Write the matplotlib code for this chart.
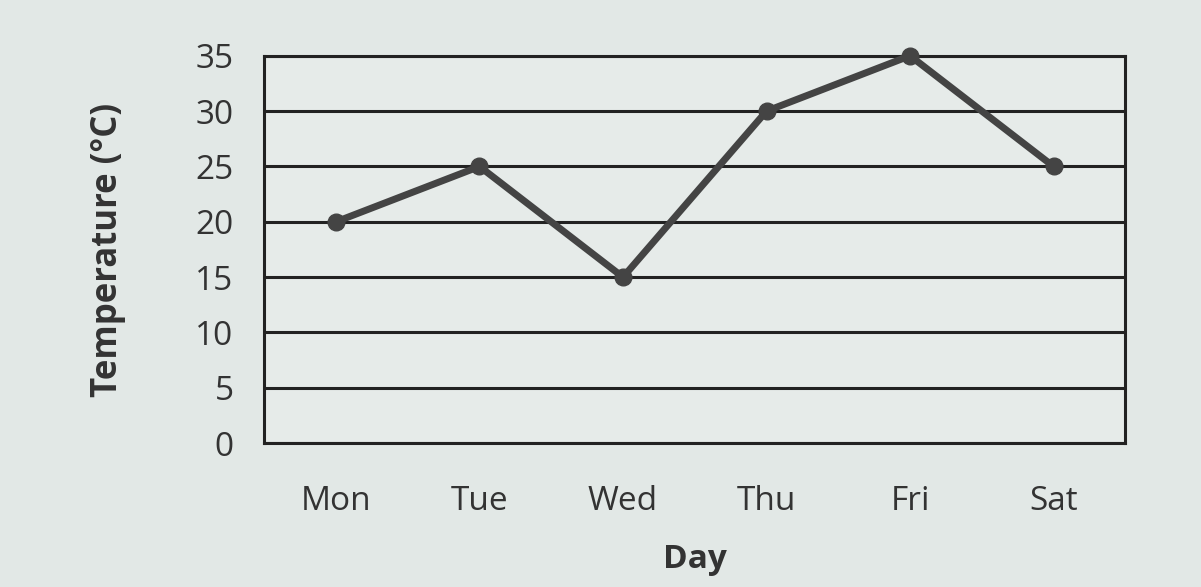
import matplotlib.pyplot as plt

days = ["Mon", "Tue", "Wed", "Thu", "Fri", "Sat"]
temps = [20, 25, 15, 30, 35, 25]
yticks = [0, 5, 10, 15, 20, 25, 30, 35]

plt.rcParams['font.family'] = ['Open Sans', 'DejaVu Sans']

fig = plt.figure(figsize=(12.01, 5.87), dpi=100)
fig.patch.set_facecolor("#e2e8e6")
ax = fig.add_axes([0.22, 0.245, 0.717, 0.66])
ax.set_facecolor("#e6ebe9")

for y in yticks:
    ax.axhline(y, color="#222222", lw=2.2, zorder=1)

ax.plot(range(len(days)), temps, color="#444444", lw=5, marker="o",
        markersize=12, zorder=3, clip_on=False)

ax.set_xlim(-0.5, len(days) - 0.5)
ax.set_ylim(0, 35)
ax.set_yticks(yticks)
ax.set_xticks(range(len(days)))
ax.set_xticklabels(days)
ax.tick_params(axis="y", length=0, pad=22, labelsize=24, labelcolor="#333333")
ax.tick_params(axis="x", length=0, pad=30, labelsize=24, labelcolor="#333333")

for s in ax.spines.values():
    s.set_linewidth(2.2)
    s.set_color("#222222")

ax.set_xlabel("Day", fontsize=24, fontweight="bold", color="#333333", labelpad=18)
ax.set_ylabel("Temperature (°C)", fontsize=25, fontweight="bold", color="#333333", labelpad=50)

fig.savefig("out.png", dpi=100, facecolor=fig.get_facecolor())
